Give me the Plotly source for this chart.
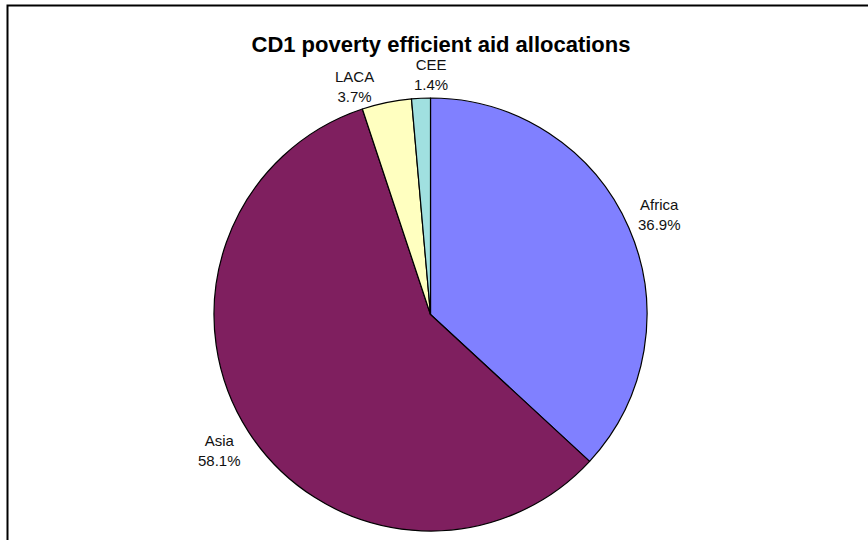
import math
import plotly.graph_objects as go

# CD1 poverty-efficient aid allocations by region (share of total, %)
regions = ["Africa", "Asia", "LACA", "CEE"]
shares = [36.9, 58.1, 3.7, 1.4]
colors = ["#8080FF", "#7F1F5F", "#FFFFC0", "#A0E0E0"]

W, H = 868, 540
FONT = "Liberation Sans, Arial, sans-serif"
LABEL_SIZE = 15

# pie placement in pixels: centre and radius
cx, cy, r = 430.5, 314.5, 216.5
dom_x = [(cx - r) / W, (cx + r) / W]
dom_y = [(H - (cy + r)) / H, (H - (cy - r)) / H]

fig = go.Figure(
    go.Pie(
        labels=regions,
        values=shares,
        sort=False,
        direction="clockwise",
        rotation=0,
        marker=dict(colors=colors, line=dict(color="black", width=1.2)),
        textinfo="none",
        domain=dict(x=dom_x, y=dom_y),
        hoverinfo="skip",
        showlegend=False,
    )
)

# ---- outside data labels -------------------------------------------------
# Each label box sits just clear of the rim along a ray from the centre,
# touching that ray with its nearest edge.  Labels of neighbouring slices that
# crowd each other are spread apart, but never beyond their own slice.
ARIAL_W = {c: 0.556 for c in "0123456789"}
ARIAL_W.update({".": 0.278, "%": 0.889, "A": 0.667, "f": 0.278, "r": 0.333,
                "i": 0.222, "c": 0.5, "a": 0.556, "s": 0.5, "L": 0.556,
                "C": 0.722, "E": 0.667})


def text_width(s):
    return sum(ARIAL_W.get(ch, 0.556) for ch in s) * LABEL_SIZE


GAP = 10.3       # clearance between rim and label box
HALF_H = 13.0    # half height of a two-line label
PAD = 50.0       # wanted horizontal spacing between neighbouring labels

total = sum(shares)
starts, ends, texts, half_ws = [], [], [], []
cum = 0.0
for name, val in zip(regions, shares):
    starts.append(cum / total * 360)
    cum += val
    ends.append(cum / total * 360)
    line2 = f"{val:.1f}%"
    texts.append(f"{name}<br>{line2}")
    half_ws.append(max(text_width(name), text_width(line2)) / 2)

angles = [(s + e) / 2 for s, e in zip(starts, ends)]


def label_centre(i):
    a = math.radians(angles[i])
    ux, uy = math.sin(a), -math.cos(a)
    edge = min(half_ws[i] / max(abs(ux), 1e-9), HALF_H / max(abs(uy), 1e-9))
    d = r + GAP + edge
    return cx + ux * d, cy + uy * d


def crowded(i, j):
    xi, yi = label_centre(i)
    xj, yj = label_centre(j)
    return (abs(xi - xj) < half_ws[i] + half_ws[j] + PAD
            and abs(yi - yj) < 2 * HALF_H + 4)


n = len(regions)
STEP = 0.25
for _ in range(400):
    moved = False
    for i in range(n - 1):
        j = i + 1
        if crowded(i, j):
            new_i = max(starts[i], angles[i] - STEP)
            new_j = min(ends[j], angles[j] + STEP)
            if new_i != angles[i] or new_j != angles[j]:
                angles[i], angles[j] = new_i, new_j
                moved = True
    if not moved:
        break

annotations = []
for i in range(n):
    px, py = label_centre(i)
    annotations.append(dict(
        x=px / W, y=1 - py / H, xref="paper", yref="paper",
        text=texts[i], showarrow=False,
        xanchor="center", yanchor="middle", align="center",
        font=dict(family=FONT, size=LABEL_SIZE, color="#111111"),
    ))

fig.update_layout(
    width=W,
    height=H,
    margin=dict(l=0, r=0, t=0, b=0),
    paper_bgcolor="white",
    title=dict(
        text="<b>CD1 poverty efficient aid allocations</b>",
        font=dict(family=FONT, size=22, color="black"),
        x=441 / W,
        xanchor="center",
        y=1 - 44 / H,
        yanchor="middle",
    ),
    annotations=annotations,
    shapes=[
        # chart-area frame (left and top edges visible)
        dict(
            type="rect", xref="paper", yref="paper",
            x0=7.5 / W, x1=1.2, y0=-0.2, y1=1 - 5.5 / H,
            line=dict(color="black", width=2),
            fillcolor="rgba(0,0,0,0)",
            layer="above",
        )
    ],
)

fig.write_html("out.html")
